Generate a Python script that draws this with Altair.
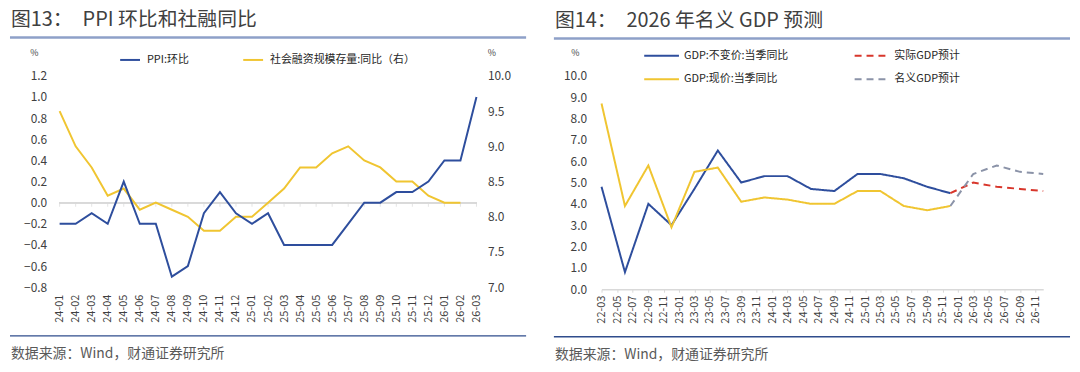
import altair as alt
import pandas as pd

FONT = "Noto Sans CJK SC"

# ---------------- Left panel: PPI MoM and TSF YoY ----------------
ppi_months = ["24-01", "24-02", "24-03", "24-04", "24-05", "24-06", "24-07", "24-08", "24-09",
              "24-10", "24-11", "24-12", "25-01", "25-02", "25-03", "25-04", "25-05", "25-06",
              "25-07", "25-08", "25-09", "25-10", "25-11", "25-12", "26-01", "26-02", "26-03"]
ppi_mom = [-0.2, -0.2, -0.1, -0.2, 0.2, -0.2, -0.2, -0.7, -0.6, -0.1, 0.1, -0.1,
           -0.2, -0.1, -0.4, -0.4, -0.4, -0.4, -0.2, 0.0, 0.0, 0.1, 0.1, 0.2,
           0.4, 0.4, 1.0]
tsf_months = ppi_months[:26]
tsf_yoy = [9.5, 9.0, 8.7, 8.3, 8.4, 8.1, 8.2, 8.1, 8.0, 7.8, 7.8, 8.0,
           8.0, 8.2, 8.4, 8.7, 8.7, 8.9, 9.0, 8.8, 8.7, 8.5, 8.5, 8.3,
           8.2, 8.2]
left_series = ["PPI:环比", "社会融资规模存量:同比（右）"]
left_colors = ["#2E4E9D", "#F0C531"]
left_y_ticks = [-0.8, -0.6, -0.4, -0.2, 0.0, 0.2, 0.4, 0.6, 0.8, 1.0, 1.2]
right_y_ticks = [7.0, 7.5, 8.0, 8.5, 9.0, 9.5, 10.0]

# ---------------- Right panel: GDP ----------------
gdp_quarters = ["2022-03", "2022-06", "2022-09", "2022-12", "2023-03", "2023-06", "2023-09", "2023-12",
                "2024-03", "2024-06", "2024-09", "2024-12", "2025-03", "2025-06", "2025-09", "2025-12"]
gdp_real = [4.8, 0.8, 4.0, 3.0, 4.7, 6.5, 5.0, 5.3, 5.3, 4.7, 4.6, 5.4, 5.4, 5.2, 4.8, 4.5]
gdp_nominal = [8.7, 3.9, 5.8, 2.9, 5.5, 5.7, 4.1, 4.3, 4.2, 4.0, 4.0, 4.6, 4.6, 3.9, 3.7, 3.9]
fc_quarters = ["2025-12", "2026-03", "2026-06", "2026-09", "2026-12"]
fc_real = [4.5, 5.0, 4.8, 4.7, 4.6]
fc_nominal = [3.9, 5.4, 5.8, 5.5, 5.4]
gdp_series = ["GDP:不变价:当季同比", "GDP:现价:当季同比", "实际GDP预计", "名义GDP预计"]
gdp_colors = ["#2E4E9D", "#F0C531", "#D8362B", "#8B93A8"]
gdp_dashes = [[1, 0], [1, 0], [7, 5], [7, 5]]
gdp_y_ticks = [0, 1, 2, 3, 4, 5, 6, 7, 8, 9, 10]

title_left = "图13：\u3000PPI 环比和社融同比"
title_right = "图14：\u30002026 年名义 GDP 预测"
source_text = "数据来源：Wind，财通证券研究所"

# ---------------- tables ----------------
ppi_df = pd.DataFrame({"month": ppi_months, "value": ppi_mom, "series": left_series[0]})
tsf_df = pd.DataFrame({"month": tsf_months, "value": tsf_yoy, "series": left_series[1]})
zero_df = pd.DataFrame({"month": ppi_months, "zero": 0.0})

rows = []
for d, v in zip(gdp_quarters, gdp_real):
    rows.append({"date": d + "-01", "value": v, "gseries": gdp_series[0]})
for d, v in zip(gdp_quarters, gdp_nominal):
    rows.append({"date": d + "-01", "value": v, "gseries": gdp_series[1]})
for d, v in zip(fc_quarters, fc_real):
    rows.append({"date": d + "-01", "value": v, "gseries": gdp_series[2]})
for d, v in zip(fc_quarters, fc_nominal):
    rows.append({"date": d + "-01", "value": v, "gseries": gdp_series[3]})
gdp_df = pd.DataFrame(rows)

one = pd.DataFrame({"k": [0]})


def decorations(x0, x1, top_y, title_y, rule_y, bottom_y, source_y, title):
    base = alt.Chart(one)
    spacer = base.mark_rule(strokeOpacity=0, strokeWidth=1).encode(
        x=alt.value(x0), x2=alt.value(x1), y=alt.value(top_y))
    t = base.mark_text(align="left", baseline="middle", fontSize=20, font=FONT,
                       color="#404040").encode(
        x=alt.value(x0 + 1), y=alt.value(title_y), text=alt.value(title))
    r1 = base.mark_rule(color="#8EA0C8", strokeWidth=2.5).encode(
        x=alt.value(x0), x2=alt.value(x1), y=alt.value(rule_y))
    r2 = base.mark_rule(color="#2F4C8C", strokeWidth=1.5).encode(
        x=alt.value(x0), x2=alt.value(x1), y=alt.value(bottom_y))
    s = base.mark_text(align="left", baseline="middle", fontSize=14, font=FONT,
                       color="#595959").encode(
        x=alt.value(x0 + 1), y=alt.value(source_y), text=alt.value(source_text))
    return [spacer, t, r1, r2, s]


# ---------------- left chart ----------------
left_x = alt.X("month:O", sort=ppi_months,
               scale=alt.Scale(type="point", padding=0, domain=ppi_months),
               axis=alt.Axis(labelAngle=270, title=None, domain=False, ticks=False,
                             labelPadding=7, grid=False, labelFontSize=11))
left_ydom = alt.Scale(domain=[-0.8, 1.2])
left_color = alt.Color("series:N", scale=alt.Scale(domain=left_series, range=left_colors),
                       legend=alt.Legend(title=None, orient="none", legendX=60, legendY=-27,
                                         direction="horizontal", columns=2, columnPadding=50,
                                         symbolType="stroke", symbolSize=400,
                                         symbolStrokeWidth=2, labelFont=FONT,
                                         labelFontSize=11, labelColor="#262626",
                                         labelOffset=6))

zero_rule = alt.Chart(zero_df).mark_rule(color="#D9D9D9", strokeWidth=1.5).encode(
    y=alt.Y("zero:Q", scale=left_ydom, axis=None))
zero_ticks = alt.Chart(zero_df).mark_tick(orient="vertical", size=4, thickness=1,
                                          color="#D9D9D9", yOffset=2).encode(
    x=left_x, y=alt.Y("zero:Q", scale=left_ydom, axis=None))

ppi_line = alt.Chart(ppi_df).mark_line(strokeWidth=2).encode(
    x=left_x,
    y=alt.Y("value:Q", scale=left_ydom,
            axis=alt.Axis(values=left_y_ticks, format=".1f", title="%", titleAngle=0,
                          titleX=-26, titleY=-18, titleFontSize=9, titleFont=FONT,
                          titleFontWeight="normal", grid=False, domain=False, ticks=False,
                          tickSize=0, labelPadding=13, labelFontSize=12)),
    color=left_color)
tsf_line = alt.Chart(tsf_df).mark_line(strokeWidth=2).encode(
    x=left_x,
    y=alt.Y("value:Q", scale=alt.Scale(domain=[7, 10]),
            axis=alt.Axis(orient="right", values=right_y_ticks, format=".1f", title="%",
                          titleAngle=0, titleX=15, titleY=-18, titleFontSize=9,
                          titleFont=FONT, titleFontWeight="normal", grid=False,
                          domain=False, ticks=False, tickSize=0, labelPadding=11,
                          labelFontSize=12)),
    color=left_color)

left_chart = alt.layer(
    zero_rule, zero_ticks, tsf_line, ppi_line,
    *decorations(-50, 470, -67, -56, -38.5, 262, 280, title_left)
).resolve_scale(y="independent").properties(width=420, height=213)

# ---------------- right chart ----------------
def dt(y, m):
    return alt.DateTime(year=y, month=m, date=1, utc=True)


tick_dates = []
yy, mm = 2022, 3
while (yy, mm) <= (2026, 11):
    tick_dates.append(dt(yy, mm))
    mm += 2
    if mm > 12:
        mm -= 12
        yy += 1

legend_gdp = dict(title=None, orient="none", legendX=42, legendY=-39, columns=2,
                  columnPadding=62, rowPadding=-25, symbolType="stroke", symbolSize=1225,
                  symbolStrokeWidth=2, labelFont=FONT, labelFontSize=11,
                  labelColor="#262626", labelOffset=4)

gdp_lines = alt.Chart(gdp_df).mark_line(strokeWidth=2).encode(
    x=alt.X("date:T", scale=alt.Scale(type="utc", domain=[dt(2022, 3), dt(2026, 12)]),
            axis=alt.Axis(values=tick_dates, format="%y-%m", labelAngle=270, title=None,
                          domain=True, domainColor="#D9D9D9", domainWidth=1.5, ticks=True,
                          tickColor="#D9D9D9", tickSize=3, labelPadding=3, grid=False,
                          labelFontSize=11)),
    y=alt.Y("value:Q", scale=alt.Scale(domain=[0, 10]),
            axis=alt.Axis(values=gdp_y_ticks, format=".1f", title="%", titleAngle=0,
                          titleX=-27, titleY=-18, titleFontSize=9, titleFont=FONT,
                          titleFontWeight="normal", grid=False, domain=False, ticks=False,
                          tickSize=0, labelPadding=15, labelFontSize=12)),
    color=alt.Color("gseries:N", scale=alt.Scale(domain=gdp_series, range=gdp_colors),
                    legend=alt.Legend(**legend_gdp)),
    strokeDash=alt.StrokeDash("gseries:N", scale=alt.Scale(domain=gdp_series, range=gdp_dashes),
                              legend=alt.Legend(**legend_gdp)),
)

right_chart = alt.layer(
    gdp_lines,
    *decorations(-48, 472, -66, -55, -37.5, 263, 281, title_right)
).properties(width=445, height=215)

chart = alt.hconcat(left_chart, right_chart, spacing=24).resolve_scale(
    color="independent", strokeDash="independent"
).resolve_legend(
    color="independent", strokeDash="independent"
).properties(
    padding=0, background="white"
).configure_view(stroke=None).configure_axis(
    labelFont=FONT, labelColor="#404040", titleColor="#404040"
)

chart.save("out.html", embed_options={"renderer": "svg", "actions": False})
